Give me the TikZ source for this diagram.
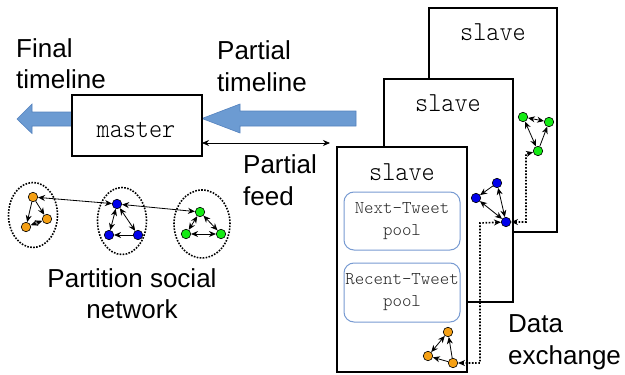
\documentclass[tikz,border=0pt]{standalone}
\usepackage{fontspec}
\setmainfont{Liberation Sans}
\newfontfamily\monolt{Latin Modern Mono Light}
\usetikzlibrary{arrows.meta}
\definecolor{bigblue}{RGB}{108,155,210}
\definecolor{bigblueb}{RGB}{84,130,190}
\definecolor{poolc}{RGB}{120,155,210}
\definecolor{orn}{RGB}{245,160,20}
\definecolor{blu}{RGB}{0,0,235}
\definecolor{grn}{RGB}{20,235,20}
\begin{document}
\begin{tikzpicture}[x=1pt,y=-1pt,
 lbl/.style={font=\fontsize{26}{31}\selectfont, inner sep=0, anchor=base west},
 lblc/.style={font=\fontsize{26}{31}\selectfont, inner sep=0, anchor=base},
 mono/.style={font=\monolt\fontsize{25}{30}\selectfont, inner sep=0, anchor=base, yscale=1.1},
 box/.style={draw, line width=1.8pt, fill=white, inner sep=0},
 pool/.style={draw=poolc, line width=1pt, rounded corners=10pt, minimum width=116pt, align=center,
   font=\monolt\fontsize{18}{22}\selectfont, text=black!85, inner sep=0},
 nd/.style={circle, draw, line width=0.6pt, minimum size=9.5pt, inner sep=0},
 ed/.style={line width=0.8pt, -{Stealth[length=7pt,width=6pt]}},
 ded/.style={line width=0.8pt, {Stealth[length=7pt,width=6pt]}-{Stealth[length=7pt,width=6pt]}},
 dotl/.style={line width=1.7pt, dash pattern=on 1.6pt off 1.6pt,
   {Stealth[length=7pt,width=6pt]}-{Stealth[length=7pt,width=6pt]}},
 clus/.style={line width=1.6pt, dash pattern=on 1.6pt off 1.4pt},
 bigarrow/.style={fill=bigblue, draw=bigblueb, line width=0.6pt}
]
\useasboundingbox (0,0) rectangle (625,375);

% big blue arrows
\filldraw[bigarrow] (72,112) -- (32,112) -- (32,104) -- (17,119) -- (32,133.5) -- (32,126) -- (72,126) -- cycle;
\filldraw[bigarrow] (356,111) -- (240,111) -- (240,104) -- (202,118.5) -- (240,133) -- (240,126) -- (356,126) -- cycle;

% master
\node[box, minimum width=130pt, minimum height=61pt] (master) at (137,125.5) {};
\node[mono] (mastert) at (136,137) {master};

% partial feed arrow
\coordinate (pfa) at (202,143);
\coordinate (pfb) at (330,143);
\draw[ded] (pfa) -- (pfb);

% labels
\node[lbl] (fin1) at (16,57) {Final};
\node[lbl] (fin2) at (16,88) {timeline};
\node[lbl] (pt1) at (217,59) {Partial};
\node[lbl] (pt2) at (217,91) {timeline};
\node[lbl] (pf1) at (243,173) {Partial};
\node[lbl] (pf2) at (243,205) {feed};
\node[lblc] (ps1) at (132,287) {Partition social};
\node[lblc] (ps2) at (132,318) {network};
\node[lbl] (de1) at (508,332) {Data};
\node[lbl] (de2) at (508,364) {exchange};

% slaves
\node[box, minimum width=128pt, minimum height=224pt] (s3) at (493,120) {};
\node[mono] (s3t) at (493,40) {slave};
\node[box, minimum width=129pt, minimum height=223pt] (s2) at (448.5,190.5) {};
\node[mono] (s2t) at (448,111) {slave};
\node[box, minimum width=130pt, minimum height=225pt] (s1) at (402,259.5) {};
\node[mono] (s1t) at (402,180) {slave};
\node[pool, minimum height=58pt] (next) at (402,221) {Next-Tweet\\pool};
\node[pool, minimum height=59pt] (recent) at (402,292.5) {Recent-Tweet\\pool};

% partition clusters
\draw[clus] (33,215) ellipse [x radius=24.5pt, y radius=32.5pt];
\draw[clus] (122,221) ellipse [x radius=24.5pt, y radius=33.5pt];
\draw[clus] (202,224) ellipse [x radius=28pt, y radius=34pt];

\node[nd, fill=orn] (o1) at (33,197) {};
\node[nd, fill=orn] (o2) at (47,219) {};
\node[nd, fill=orn] (o3) at (26,227) {};
\node[nd, fill=blu] (b1) at (117,204) {};
\node[nd, fill=blu] (b2) at (109,235) {};
\node[nd, fill=blu] (b3) at (138,235) {};
\node[nd, fill=grn] (g1) at (200,212) {};
\node[nd, fill=grn] (g2) at (186,234) {};
\node[nd, fill=grn] (g3) at (221,234) {};
\draw[ed] (o1) -- (o3);
\draw[ed] (o1) -- (o2);
\draw[ded] (o2) -- (o3);
\draw[ded] (b1) -- (b2);
\draw[ded] (b1) -- (b3);
\draw[ed] (b3) -- (b2);
\draw[ded] (g1) -- (g2);
\draw[ded] (g1) -- (g3);
\draw[ded] (g2) -- (g3);
\draw[ded] (o1) -- (b1);
\draw[ded] (b1) -- (g1);

% graphs inside slaves
\node[nd, fill=orn] (p1) at (448,332) {};
\node[nd, fill=orn] (p2) at (428,356) {};
\node[nd, fill=orn] (p3) at (453,363) {};
\draw[ded] (p1) -- (p2);
\draw[ed] (p3) -- (p2);
\draw[ed] (p3) -- (p1);
\node[nd, fill=blu] (q1) at (497,183) {};
\node[nd, fill=blu] (q2) at (476,198) {};
\node[nd, fill=blu] (q3) at (506,222) {};
\draw[ed] (q1) -- (q2);
\draw[ded] (q2) -- (q3);
\draw[ded] (q1) -- (q3);
\node[nd, fill=grn] (r1) at (523,117) {};
\node[nd, fill=grn] (r2) at (549,122) {};
\node[nd, fill=grn] (r3) at (538,151) {};
\draw[ded] (r1) -- (r2);
\draw[ded] (r1) -- (r3);
\draw[ed] (r3) -- (r2);

% data exchange dotted links
\coordinate (j1) at (480,223);
\coordinate (j2) at (526,154);
\draw[dotl] (p3) -| (j1) -- (q3);
\draw[dotl] (q3) -| (j2) -- (r3);
\end{tikzpicture}
\end{document}
